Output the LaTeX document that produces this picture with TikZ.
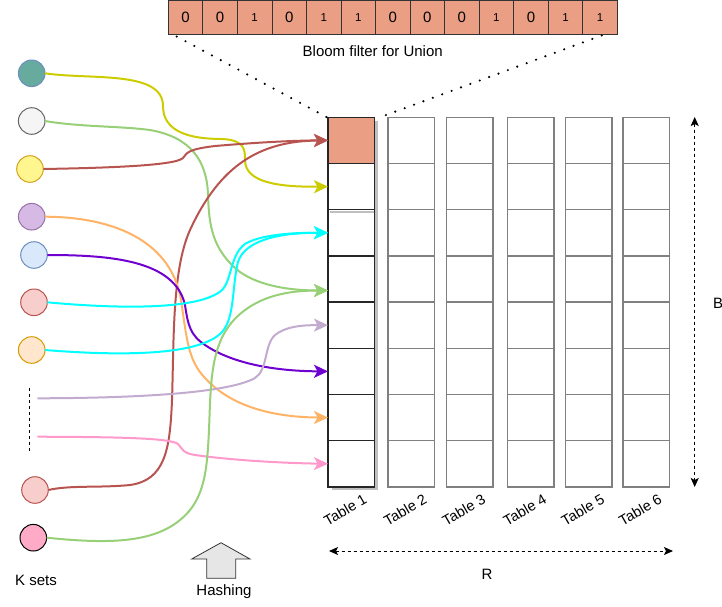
\documentclass[tikz,border=0pt]{standalone}
\usepackage{fontspec}
\setmainfont{Liberation Sans}
\usetikzlibrary{arrows.meta,calc}
\definecolor{salmon}{HTML}{EA9F84}
\definecolor{cyel}{HTML}{CCCC00}
\definecolor{cgreen}{HTML}{97D077}
\definecolor{cred}{HTML}{B85450}
\definecolor{corange}{HTML}{FFB366}
\definecolor{cpurple}{RGB}{112,0,208}
\definecolor{ccyan}{HTML}{00FFFF}
\definecolor{clav}{HTML}{C3ABD0}
\definecolor{cpink}{HTML}{FF99CC}
\definecolor{gridgrey}{HTML}{808080}
\definecolor{hashgrey}{HTML}{E6E6E6}
\newcommand\bz{\fontsize{15}{15}\selectfont 0}
\newcommand\bo{\fontsize{11.5}{11.5}\selectfont 1}
\begin{document}
\begin{tikzpicture}[x=1pt,y=-1pt,
  font=\fontsize{15}{18}\selectfont,
  gcell/.style={draw=gridgrey,line width=1.3pt,minimum width=46.3pt,minimum height=46.2pt,inner sep=0pt,outer sep=0pt},
  bcell/.style={draw=black!85,line width=1.5pt,minimum width=46.3pt,minimum height=46.2pt,inner sep=0pt,outer sep=0pt},
  bloomcell/.style={draw=black!80,line width=0.8pt,fill=salmon,minimum width=34.54pt,minimum height=34.5pt,inner sep=0pt,outer sep=0pt},
  kset/.style={circle,minimum size=26.6pt,inner sep=0pt,outer sep=0pt,line width=1pt},
  edge/.style={line width=2pt,-{Stealth[length=14pt,width=13pt,inset=3.5pt]}},
  dotline/.style={line width=2.4pt,line cap=round,dash pattern=on 0pt off 10pt},
  dim/.style={line width=1pt,dash pattern=on 3pt off 3pt,{Stealth[length=9pt,width=8pt,inset=2pt]}-{Stealth[length=9pt,width=8pt,inset=2pt]}},
  tlabel/.style={rotate=30,font=\fontsize{14.5}{16}\selectfont}
]
\useasboundingbox (0,0) rectangle (722,606);

% bloom filter
\foreach \i/\v in {1/\bz,2/\bz,3/\bo,4/\bz,5/\bo,6/\bo,7/\bz,8/\bz,9/\bz,10/\bo,11/\bz,12/\bo,13/\bo}{
  \node[bloomcell] (b\i) at ({168.3+34.54*\i-17.27},17.2) {\v};
}
\node (bl) at (372.7,50.7) {Bloom filter for Union};

% tables 2-6
\foreach \t/\xl in {2/388,3/446.7,4/507.7,5/565.7,6/623}{
  \foreach \r in {1,...,8}{
    \node[gcell] (t\t-\r) at ({\xl+23.15},{94.2+46.2*\r}) {};
  }
}
% table 1 shadow
\fill[black!25] (331.5,120.5) rectangle (377.5,490);
% table 1
\foreach \r in {1,...,8}{
  \node[bcell,fill=white] (t1-\r) at (351.15,{94.2+46.2*\r}) {};
}
\fill[black!25] (330,210.5) rectangle (373.5,213);
\node[bcell,fill=salmon] at (t1-1) {};

% table labels
\foreach \t in {1,...,6}{
  \node[tlabel] (l\t) at ([xshift=-6pt,yshift=-23pt]t\t-8.south) {Table \t};
}

% dotted lines
\coordinate (dl) at (176.7,36.5);
\coordinate (dr) at (601.7,35.5);
\draw[dotline] (dl) -- ([xshift=-1pt]t1-1.north west);
\draw[dotline] (dr) -- ([xshift=11pt,yshift=2pt]t1-1.north east);

% dimension arrows
\coordinate (ra) at (329,551);
\coordinate (rb) at (673,551);
\draw[dim] (ra) -- (rb);
\node (rl) at (487,574) {R};
\coordinate (ba) at (694.7,117);
\coordinate (bb) at (694.7,487);
\draw[dim] (ba) -- (bb);
\node (blab) at (718,303) {B};

% k sets nodes
\node[kset,fill={rgb,255:red,103;green,171;blue,159},draw={rgb,255:red,108;green,142;blue,191}] (c1) at (31.7,73.3) {};
\node[kset,fill={rgb,255:red,245;green,245;blue,245},draw={rgb,255:red,102;green,102;blue,102}] (c2) at (31.7,121) {};
\node[kset,fill={rgb,255:red,255;green,246;blue,143},draw={rgb,255:red,214;green,160;blue,30}] (c3) at (30,169) {};
\node[kset,fill={rgb,255:red,215;green,185;blue,230},draw={rgb,255:red,150;green,115;blue,166}] (c4) at (31.7,216.7) {};
\node[kset,fill={rgb,255:red,218;green,232;blue,252},draw={rgb,255:red,108;green,142;blue,191}] (c5) at (34,255) {};
\node[kset,fill={rgb,255:red,248;green,206;blue,204},draw={rgb,255:red,184;green,84;blue,80}] (c6) at (34,302.3) {};
\node[kset,fill={rgb,255:red,255;green,230;blue,204},draw={rgb,255:red,215;green,155;blue,0}] (c7) at (31.7,350) {};
\node[kset,fill={rgb,255:red,248;green,206;blue,204},draw={rgb,255:red,184;green,84;blue,80}] (c8) at (35,490) {};
\node[kset,fill={rgb,255:red,255;green,171;blue,200},draw=black] (c9) at (33.3,537.7) {};
\coordinate (dash1) at (29,388.3);
\coordinate (dash2) at (29,454);
\draw[line width=1pt,dash pattern=on 3pt off 3pt] (dash1) -- (dash2);
\coordinate (ls) at (37.3,398.3);
\coordinate (ps) at (37.3,436.7);
\node (ksl) at (36,580) {K sets};

% hashing arrow
\draw[fill=hashgrey,draw=black!80,line width=0.8pt] (221,542.7) -- (250,559) -- (235.7,559) -- (235.7,578.3) -- (206.7,578.3) -- (206.7,559) -- (191.7,559) -- cycle;
\node (hl) at (224,591.7) {Hashing};

% connectors
\coordinate (g4) at ([yshift=-11.5pt]t1-4.west);
\draw[edge,cyel] (c1.east) .. controls (90,80) and (163,70) .. (163,106) .. controls (163,132) and (190,139) .. (222,139) .. controls (245,140) and (245,150) .. (245,160) .. controls (245,183) and (280,187) .. (t1-2.west);
\draw[edge,cgreen] (c2.east) .. controls (80,127) and (120,126) .. (150,130) .. controls (190,137) and (207,160) .. (208,195) .. controls (209,225) and (212,250) .. (240,272) .. controls (260,286) and (290,290.5) .. (g4);
\draw[edge,cred] (c3.east) .. controls (100,168) and (175,166) .. (183,158) .. controls (187,152) and (190,149) .. (215,146) .. controls (250,143) and (290,140.5) .. (t1-1.west);
\draw[edge,cred] (c8.east) .. controls (70,485) and (100,488) .. (130,485) .. controls (165,480) and (170,450) .. (172,400) .. controls (174,340) and (172,270) .. (190,230) .. controls (220,165) and (260,141) .. (t1-1.west);
\draw[edge,corange] (c4.east) .. controls (120,217) and (172,245) .. (181,300) .. controls (187,340) and (188,360) .. (205,378) .. controls (225,400) and (260,417) .. (t1-7.west);
\draw[edge,cpurple] (c5.east) .. controls (110,255) and (175,260) .. (185,305) .. controls (188,325) and (190,335) .. (205,345) .. controls (230,362) and (270,371) .. (t1-6.west);
\draw[edge,ccyan] (c6.east) .. controls (120,309) and (200,310) .. (222,290) .. controls (232,280) and (230,255) .. (245,244) .. controls (260,235) and (290,232.6) .. (t1-3.west);
\draw[edge,ccyan] (c7.east) .. controls (120,356) and (200,356) .. (222,332) .. controls (235,318) and (232,285) .. (238,262) .. controls (245,240) and (280,232.6) .. (t1-3.west);
\draw[edge,clav] (ls) .. controls (150,398) and (230,392) .. (255,378) .. controls (268,370) and (264,345) .. (275,335) .. controls (285,327) and (300,325) .. (t1-5.west);
\draw[edge,cpink] (ps) .. controls (120,437) and (170,438) .. (178,444) .. controls (183,449) and (182,453) .. (195,455) .. controls (230,460) and (280,463) .. (t1-8.west);
\draw[edge,cgreen] (c9.east) .. controls (100,543) and (150,545) .. (180,520) .. controls (205,500) and (207,470) .. (209,430) .. controls (211,380) and (210,340) .. (240,314) .. controls (260,297) and (285,290.5) .. (g4);
\end{tikzpicture}
\end{document}
